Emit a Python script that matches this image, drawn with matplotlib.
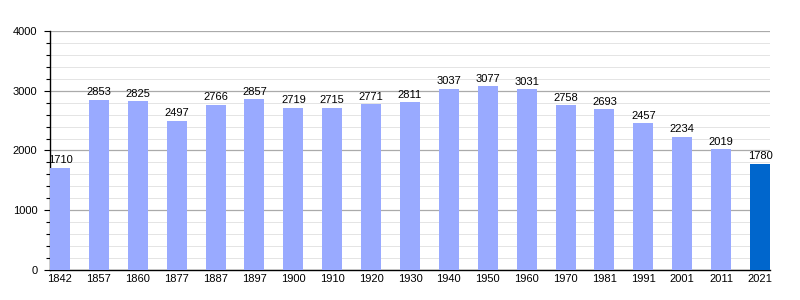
import matplotlib
matplotlib.use("Agg")
import matplotlib.pyplot as plt
from matplotlib.ticker import MultipleLocator

plt.rcParams["font.family"] = ["Liberation Sans", "DejaVu Sans"]

years = ["1842", "1857", "1860", "1877", "1887", "1897", "1900", "1910", "1920", "1930",
         "1940", "1950", "1960", "1970", "1981", "1991", "2001", "2011", "2021"]
population = [1710, 2853, 2825, 2497, 2766, 2857, 2719, 2715, 2771, 2811,
              3037, 3077, 3031, 2758, 2693, 2457, 2234, 2019, 1780]

light = "#99aaff"
dark = "#0066cc"
colors = [light] * (len(years) - 1) + [dark]

fig = plt.figure(figsize=(8, 3), dpi=100)
ax = fig.add_axes([0.0625, 0.1, 0.9, 0.7967])

x = list(range(len(years)))
w = 0.515
ax.bar(x, population, width=w, color=colors, zorder=3)
for xi, v in zip(x, population):
    ax.text(xi, v + 40, str(v), ha="center", va="bottom", fontsize=8, zorder=4)

ax.set_xlim(-w / 2, len(years) - 1 + w / 2)
ax.set_ylim(0, 4000)
ax.set_xticks(x)
ax.set_xticklabels(years, fontsize=8)
ax.yaxis.set_major_locator(MultipleLocator(1000))
ax.yaxis.set_minor_locator(MultipleLocator(200))
ax.tick_params(axis="y", labelsize=8, length=4, width=0.8, pad=5)
ax.tick_params(axis="y", which="minor", length=3, width=0.8)
ax.tick_params(axis="x", length=0, pad=3)
ax.grid(axis="y", which="major", color="#aaaaaa", linewidth=0.9, zorder=0)
ax.grid(axis="y", which="minor", color="#e4e4e4", linewidth=0.7, zorder=0)
for s in ["top", "right"]:
    ax.spines[s].set_visible(False)
ax.spines["left"].set_linewidth(1)
ax.spines["bottom"].set_linewidth(1)
ax.set_axisbelow(True)

fig.savefig("out.png", dpi=100)
